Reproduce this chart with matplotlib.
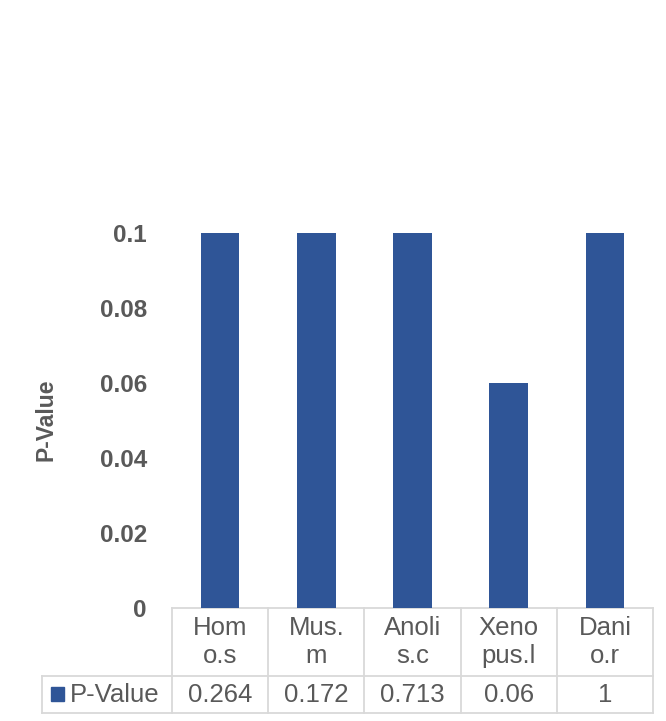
import matplotlib
matplotlib.use("Agg")
import matplotlib.pyplot as plt
from matplotlib.transforms import blended_transform_factory
from matplotlib.patches import Rectangle

plt.rcParams['font.family'] = ['Liberation Sans', 'DejaVu Sans']

categories = ["Hom\no.s", "Mus.\nm", "Anoli\ns.c", "Xeno\npus.l", "Dani\no.r"]
series_name = "P-Value"
values = [0.264, 0.172, 0.713, 0.06, 1]
y_ticks = [0, 0.02, 0.04, 0.06, 0.08, 0.1]
y_tick_labels = ["0", "0.02", "0.04", "0.06", "0.08", "0.1"]

BAR = '#2F5597'
TXT = '#595959'
GRID = '#D9D9D9'

W, H = 666, 721
fig = plt.figure(figsize=(W / 100, H / 100), dpi=100)
ax = fig.add_axes([172 / W, (H - 608) / H, 481 / W, 375 / H])

x = list(range(len(categories)))
ax.bar(x, values, width=0.4, color=BAR, zorder=2)
ax.set_xlim(-0.5, len(categories) - 0.5)
ax.set_ylim(0, 0.1)
ax.set_yticks(y_ticks)
ax.set_yticklabels(y_tick_labels, fontsize=17.5, fontweight='bold', color=TXT)
ax.set_xticks([])
ax.tick_params(axis='y', length=0, pad=18)
for s in ax.spines.values():
    s.set_visible(False)

fig.text(46 / W, 1 - 420 / H, "P-Value", rotation=90, ha='center', va='center',
         fontsize=16.5, fontweight='bold', color=TXT)

# data table
tr = blended_transform_factory(ax.transData, ax.transAxes)
col_w_px = 481 / len(categories)
left = -0.5 - 130 / col_w_px
right = len(categories) - 0.5
h1 = 68 / 375
h2 = 105 / 375
lw = 1.3
kw = dict(color=GRID, lw=lw, transform=tr, clip_on=False, zorder=1)
ax.plot([-0.5, right], [0, 0], **kw)
ax.plot([left, right], [-h1, -h1], **kw)
ax.plot([left, right], [-h2, -h2], **kw)
for i in range(len(categories) + 1):
    ax.plot([i - 0.5, i - 0.5], [0, -h2], **kw)
ax.plot([left, left], [-h1, -h2], **kw)

for i, c in enumerate(categories):
    ax.text(i, -h1 / 2, c, transform=tr, ha='center', va='center',
            multialignment='center', fontsize=18.5, color=TXT, linespacing=1.17)
    ax.text(i, -(h1 + h2) / 2, f"{values[i]:g}", transform=tr, ha='center',
            va='center', fontsize=18.5, color=TXT)

sq_x = -0.5 + (51 - 172) / col_w_px
ax.add_patch(Rectangle((sq_x, -(701 - 608) / 375), 13 / col_w_px, 14 / 375,
                       transform=tr, color=BAR, clip_on=False))
ax.text(-0.5 + (70 - 172) / col_w_px, -(h1 + h2) / 2, series_name, transform=tr,
        ha='left', va='center', fontsize=18.5, color=TXT)

fig.savefig("out.png", dpi=100)
